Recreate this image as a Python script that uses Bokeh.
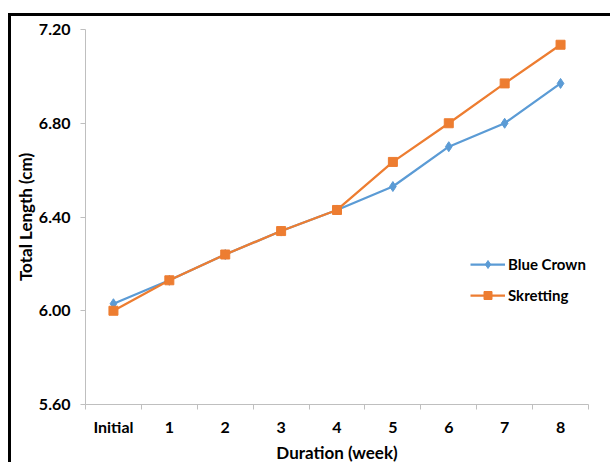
from bokeh.plotting import figure
from bokeh.models import FixedTicker, Legend, LegendItem, Range1d
from bokeh.embed import file_html
from bokeh.resources import INLINE

weeks = ["Initial", "1", "2", "3", "4", "5", "6", "7", "8"]
blue_crown = [6.03, 6.13, 6.24, 6.34, 6.43, 6.53, 6.70, 6.80, 6.97]
skretting = [6.00, 6.13, 6.24, 6.34, 6.43, 6.635, 6.80, 6.97, 7.135]
y_ticks = [5.60, 6.00, 6.40, 6.80, 7.20]

FONT = "Lato"
BLUE = "#5B9BD5"
ORANGE = "#ED7D31"
AXIS = "#BFBFBF"

xs = [i + 0.5 for i in range(len(weeks))]

p = figure(width=602, height=449, output_backend="svg", toolbar_location=None,
           x_range=Range1d(0, len(weeks)), y_range=Range1d(5.6, 7.2),
           min_border_left=74, min_border_right=25, min_border_top=13, min_border_bottom=61)
p.styles = {"margin-left": "8px", "margin-top": "13px",
            "border-left": "3px solid black", "border-top": "3px solid black"}
p.outline_line_color = None
p.xgrid.visible = False
p.ygrid.visible = False

r1 = p.line(xs, blue_crown, line_color=BLUE, line_width=2.25)
m1 = p.scatter(xs, blue_crown, marker="diamond", size=10, color=BLUE)
r2 = p.line(xs, skretting, line_color=ORANGE, line_width=2.25)
m2 = p.scatter(xs, skretting, marker="square", size=9, color=ORANGE)

# x axis: labels at category centres, tick marks at category boundaries
p.xaxis.ticker = FixedTicker(ticks=xs, minor_ticks=list(range(len(weeks) + 1)))
p.xaxis.major_label_overrides = {x: w for x, w in zip(xs, weeks)}
p.xaxis.major_tick_line_color = None
p.xaxis.minor_tick_line_color = AXIS
p.xaxis.minor_tick_out = 5
p.xaxis.minor_tick_in = 0
p.xaxis.axis_line_color = AXIS
p.xaxis.major_label_standoff = 6
p.xaxis.axis_label = "Duration (week)"
p.xaxis.axis_label_standoff = 3

p.yaxis.ticker = FixedTicker(ticks=y_ticks)
p.yaxis.major_label_overrides = {v: f"{v:.2f}" for v in y_ticks}
p.yaxis.minor_tick_line_color = None
p.yaxis.major_tick_line_color = AXIS
p.yaxis.major_tick_out = 5
p.yaxis.major_tick_in = 0
p.yaxis.axis_line_color = AXIS
p.yaxis.major_label_standoff = 10
p.yaxis.axis_label = "Total Length (cm)"
p.yaxis.axis_label_standoff = 0

for ax in (p.xaxis, p.yaxis):
    ax.major_label_text_font = FONT
    ax.major_label_text_font_style = "bold"
    ax.major_label_text_font_size = "16px"
    ax.major_label_text_color = "#000000"
    ax.axis_label_text_font = FONT
    ax.axis_label_text_font_style = "bold"
    ax.axis_label_text_font_size = "17px"
    ax.axis_label_text_color = "#000000"

legend = Legend(items=[LegendItem(label="Blue Crown", renderers=[r1, m1]),
                       LegendItem(label="Skretting", renderers=[r2, m2])],
                location=(385, 99), glyph_width=35, glyph_height=20, label_height=20,
                spacing=11, padding=0, margin=0, label_standoff=3,
                border_line_color=None, background_fill_alpha=0,
                label_text_font=FONT, label_text_font_style="bold",
                label_text_font_size="15px", label_text_color="#000000")
p.add_layout(legend)

open("out.html", "w").write(file_html(p, INLINE))
